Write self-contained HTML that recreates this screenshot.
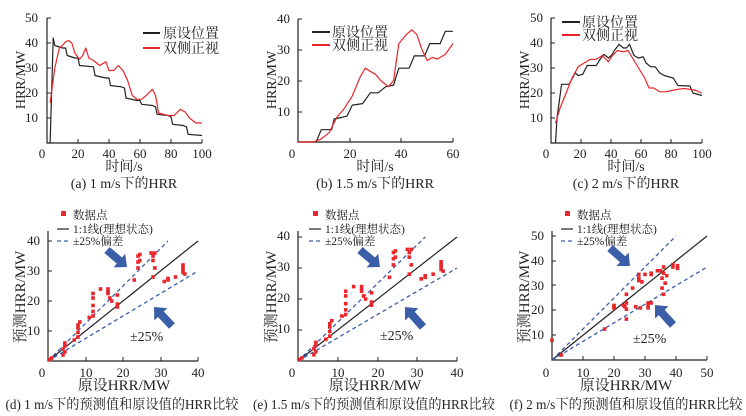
<!DOCTYPE html>
<html><head><meta charset="utf-8"><style>
body{margin:0;background:#fff}
svg{display:block}
text{font-family:"Liberation Serif","Noto Serif CJK SC",serif;fill:#222}
.t{font-size:13px}
.l{font-size:14px}
.s{font-size:11.5px}
</style></head><body>
<svg id="s" width="746" height="416" viewBox="0 0 746 416" xmlns="http://www.w3.org/2000/svg">
<rect width="746" height="416" fill="#fff"/>
<g id="g"></g>
<g class="t" text-anchor="end">
<text x="38" y="22">50</text><text x="38" y="47">40</text><text x="38" y="72">30</text><text x="38" y="97">20</text><text x="38" y="122">10</text>
<text x="290" y="23">40</text><text x="290" y="54">30</text><text x="290" y="85">20</text><text x="290" y="116">10</text>
<text x="543" y="22">50</text><text x="543" y="47">40</text><text x="543" y="72">30</text><text x="543" y="97">20</text><text x="543" y="122">10</text>
<text x="40" y="245">40</text><text x="40" y="275">30</text><text x="40" y="305">20</text><text x="40" y="335">10</text>
<text x="290" y="240">40</text><text x="290" y="271">30</text><text x="290" y="302">20</text><text x="290" y="333">10</text>
<text x="544" y="240">50</text><text x="544" y="265">40</text><text x="544" y="290">30</text><text x="544" y="314">20</text><text x="544" y="339">10</text>
</g>
<g class="t" text-anchor="middle">
<text x="42" y="158">0</text><text x="78" y="158">20</text><text x="109" y="158">40</text><text x="140" y="158">60</text><text x="171" y="158">80</text><text x="202" y="158">100</text>
<text x="292" y="158">0</text><text x="350" y="158">20</text><text x="401" y="158">40</text><text x="453" y="158">60</text>
<text x="546" y="158">0</text><text x="580" y="158">20</text><text x="611" y="158">40</text><text x="641" y="158">60</text><text x="671" y="158">80</text><text x="702" y="158">100</text>
<text x="42" y="377">0</text><text x="86" y="377">10</text><text x="123" y="377">20</text><text x="161" y="377">30</text><text x="198" y="377">40</text>
<text x="292" y="377">0</text><text x="338" y="377">10</text><text x="378" y="377">20</text><text x="417" y="377">30</text><text x="457" y="377">40</text>
<text x="546" y="377">0</text><text x="583" y="377">10</text><text x="614" y="377">20</text><text x="645" y="377">30</text><text x="676" y="377">40</text><text x="707" y="377">50</text>
</g>
<g class="l" text-anchor="middle">
<text x="124" y="171">时间/s</text><text x="375" y="171">时间/s</text><text x="626" y="171">时间/s</text>
<text x="124" y="188">(a) 1 m/s下的HRR</text><text x="375" y="188">(b) 1.5 m/s下的HRR</text><text x="626" y="188">(c) 2 m/s下的HRR</text>
<text x="124" y="390" style="font-size:15px">原设HRR/MW</text><text x="375" y="390" style="font-size:15px">原设HRR/MW</text><text x="626" y="390" style="font-size:15px">原设HRR/MW</text>
<text x="122" y="409" textLength="233" lengthAdjust="spacingAndGlyphs">(d) 1 m/s下的预测值和原设值的HRR比较</text>
<text x="374" y="409" textLength="242" lengthAdjust="spacingAndGlyphs">(e) 1.5 m/s下的预测值和原设值的HRR比较</text>
<text x="626" y="409" textLength="233" lengthAdjust="spacingAndGlyphs">(f) 2 m/s下的预测值和原设值的HRR比较</text>
<text transform="translate(25,80) rotate(-90)">HRR/MW</text>
<text transform="translate(276,80) rotate(-90)">HRR/MW</text>
<text transform="translate(529,80) rotate(-90)">HRR/MW</text>
<text transform="translate(25,297) rotate(-90)" style="font-size:15px">预测HRR/MW</text>
<text transform="translate(276,297) rotate(-90)" style="font-size:15px">预测HRR/MW</text>
<text transform="translate(529,297) rotate(-90)" style="font-size:15px">预测HRR/MW</text>
</g>
<g class="l">
<text x="163" y="38">原设位置</text><text x="163" y="53">双侧正视</text>
<text x="332" y="37">原设位置</text><text x="332" y="50">双侧正视</text>
<text x="582" y="27">原设位置</text><text x="582" y="40">双侧正视</text>
<text x="130" y="341">±25%</text><text x="380" y="340">±25%</text><text x="633" y="343">±25%</text>
</g>
<g class="s">
<text x="73" y="219">数据点</text><text x="73" y="233">1:1线(理想状态)</text><text x="73" y="245">±25%偏差</text>
<text x="325" y="219">数据点</text><text x="325" y="233">1:1线(理想状态)</text><text x="325" y="245">±25%偏差</text>
<text x="577" y="219">数据点</text><text x="577" y="233">1:1线(理想状态)</text><text x="577" y="245">±25%偏差</text>
</g>
</svg>
<script>
var g=document.getElementById('g'),NS='http://www.w3.org/2000/svg';
function el(n,a){var e=document.createElementNS(NS,n);for(var k in a)e.setAttribute(k,a[k]);g.appendChild(e);return e;}
function P(x0,y0,x1,y1,xm,ym){return function(x,y){return [x0+(x1-x0)*x/xm,y0-(y0-y1)*y/ym];};}
function line(p,d,c,w,dash){var s=[];for(var i=0;i<d.length;i+=2){var q=p(d[i],d[i+1]);s.push(q[0].toFixed(1)+','+q[1].toFixed(1));}
 var a={points:s.join(' '),fill:'none',stroke:c,'stroke-width':w||1.2,'stroke-linejoin':'round'};if(dash)a['stroke-dasharray']=dash;el('polyline',a);}
function axes(x0,y0,x1,y1,xt,yt){el('path',{d:'M'+x0+','+y1+'V'+y0+'H'+x1,stroke:'#222',fill:'none','stroke-width':1.2});
 xt.forEach(function(x){el('line',{x1:x,x2:x,y1:y0,y2:y0-4,stroke:'#222'});});
 yt.forEach(function(y){el('line',{x1:x0,x2:x0+4,y1:y,y2:y,stroke:'#222'});});}
var R='#e8262b',K='#222',B='#3a5ea8';
var pa=P(47,143,202,18,100,50);axes(47,143,202,18,[78,109,140,171,202],[18,43,68,93,118]);
line(pa,[2,0,3,20,4,42,5,39,10,38,12,38,13,35,18,34,20,34,21,31,30,30.5,31,27,38,26,40,26,41,23,48,22.5,50,22,51,18,58,17,60,17,61,15.5,68,15,70,14.5,71,11.5,78,11,80,10.5,81,7.5,88,7,90,6.5,91,3.5,100,3],K);
line(pa,[2,16,5,30,8,38,10,39,12,40.5,14,41,16,40,18,36,21,33.5,23,35,25,38,27,34,30,33,34,31,38,32.5,40,29,43,29,46,31,49,29,52,25,55,19,58,17.5,61,17.5,64,19,68,21.5,70,19,72,12,78,11,82,11,86,13.5,89,12.5,92,10,96,8,100,8],R);
var pb=P(298,142,453,19,60,40);axes(298,142,453,19,[350,401,453],[19,50,81,112]);
line(pb,[0,0,7,0,9,4,11,4,13,4,14,7.5,17,8,19,8.5,21,12,25,12.5,28,16,31,16,34,18,37,18.5,39,24,43,24,45,28,49,28,51,32,55,32,57,36,60,36],K);
line(pb,[0,0,6,0,9,1,12,3,15,8,18,11,21,15,24,21,26,24,28,23,30,22,32,20,35,18,37,20,39,32,42,35,44,36.5,46,35,48,30,50,26.5,52,27.5,54,27,57,28.5,60,32],R);
var pc=P(551,143,702,18,100,50);axes(551,143,702,18,[581,611,641,671,702],[18,43,68,93,118]);
line(pc,[3,0,4,10,7,23.5,12,23.5,16,28,18,27,21,27.5,24,31,30,31,32,33,35,35.5,38,34,40,35,42,37,45,39.5,48,38,50,38,52,39.5,55,35,58,34,61,34.5,63,32,66,30.5,69,30.5,72,28,75,27,78,26.5,81,26,84,23,92,22.8,94,20,100,19],K);
line(pc,[3,8,6,14,10,20,14,26,18,30.5,22,32,26,33.5,30,33.5,34,35,38,32.5,40,34.5,44,37,48,36.5,51,37,54,34,58,30,62,26,65,22,68,22,72,20.5,76,20.5,80,21,84,21.5,88,21.8,92,21.5,96,21,100,20],R);
[[143,160,33,48],[312,330,32,45],[562,580,22,35]].forEach(function(l){
 el('line',{x1:l[0],x2:l[1],y1:l[2],y2:l[2],stroke:K,'stroke-width':2});el('line',{x1:l[0],x2:l[1],y1:l[3],y2:l[3],stroke:R,'stroke-width':2});});
var ptsD=[0.5,0.5,1,1,4,2,4.5,3,4.5,5,4.5,6,4,4,7,7,8,8,8,9.5,8,11,8,12,8.5,13,11,14.5,12,15,12,16.5,12,18.5,12,21,12,22.5,14,24,16,22.5,16,24,16,23,16.5,21,17,20,18.5,18,18.5,19,18.5,22,23,27,24,31,24,33,24,35,24.5,35.5,24.5,33.5,27.5,36,28,35,28,33.5,28.5,31,28,28,28.5,36,31,26.5,32,27,32,27.5,34,28,36,29.5,36,31,36,32,36.5,29,36,30.5];
var ptsF=[0,8,3,2,17,12.5,20,21,20,21.5,20,22,23,22,23.5,21.5,24,23,24,26.5,24,20.5,24,16.5,26,29,27,21.5,28,32,28,33,28,34.5,28.5,21,29,31.5,30,34.5,31,23,31,22,31,21,32,35,32,34.5,32,23,34,36,35,36,35.5,33,35.5,29,36,26.5,36,35,36,37.5,36.5,31,37,34,39,37.5,39,38.5,40.5,37,40.5,38];
function sc(p,x0,y0,x1,y1,m,pts,xt,yt){axes(x0,y0,x1,y1,xt,yt);
 line(p,[0,0,m,m],K,1.2);line(p,[0,0,m*0.8,m],B,1.3,'4,3');line(p,[0,0,m,m*0.75],B,1.3,'4,3');
 for(var i=0;i<pts.length;i+=2){var q=p(pts[i],pts[i+1]);el('rect',{x:q[0]-1.8,y:q[1]-1.8,width:3.6,height:3.6,fill:R});}}
sc(P(48,361,198,241,40,40),48,361,198,231,40,ptsD,[86,123,161,198],[241,271,301,331]);
sc(P(298,361,457,237,40,40),298,361,457,231,40,ptsD,[338,378,417,457],[237,268,299,330]);
sc(P(552,360,707,236,50,50),552,360,707,231,50,ptsF,[583,614,645,676,707],[236,261,285,310,335]);
[[57,73],[309,325],[561,577]].forEach(function(l){var a=l[0];
 el('rect',{x:a+4,y:211,width:5,height:5,fill:R});
 el('line',{x1:a,x2:a+12,y1:229,y2:229,stroke:K,'stroke-width':1.2});
 el('line',{x1:a,x2:a+12,y1:241,y2:241,stroke:B,'stroke-width':1.3,'stroke-dasharray':'4,3'});});
function arrow(x1,y1,x2,y2){var dx=x2-x1,dy=y2-y1,L=Math.hypot(dx,dy),ux=dx/L,uy=dy/L,nx=-uy,ny=ux,w=4,h=9,hl=10;
 var bx=x2-ux*hl,by=y2-uy*hl;
 var pts=[[x1+nx*w,y1+ny*w],[bx+nx*w,by+ny*w],[bx+nx*h,by+ny*h],[x2,y2],[bx-nx*h,by-ny*h],[bx-nx*w,by-ny*w],[x1-nx*w,y1-ny*w]];
 el('polygon',{points:pts.map(function(p){return p[0].toFixed(1)+','+p[1].toFixed(1)}).join(' '),fill:B});}
arrow(107,250,127,267);arrow(172,326,154,307);
arrow(360,250,380,267);arrow(423,327,405,307);
arrow(610,248,630,266);arrow(673,325,655,305);
</script>
</body></html>
